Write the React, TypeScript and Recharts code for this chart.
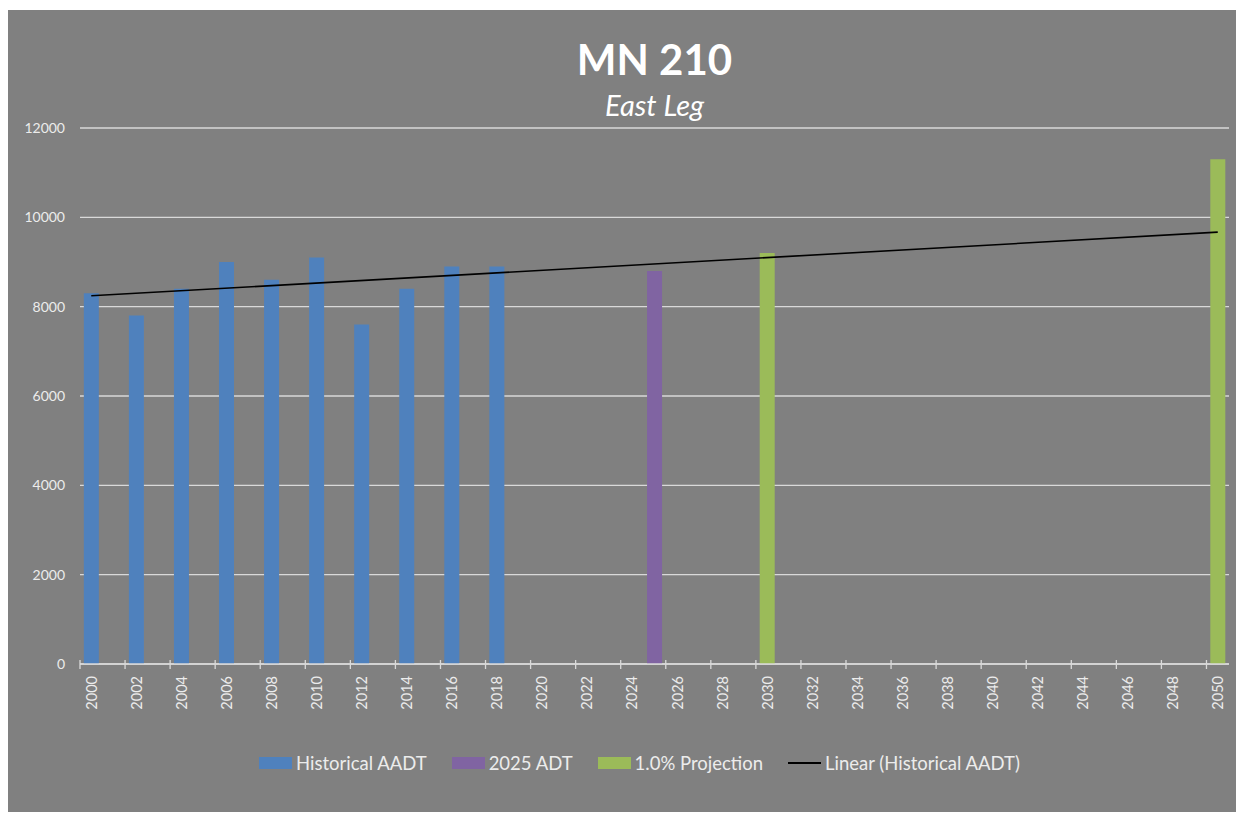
import React from "react";
import { ComposedChart, Bar, Line, XAxis, YAxis, CartesianGrid } from "recharts";

const years: number[] = [];
for (let y = 2000; y <= 2050; y++) years.push(y);

const historicalYears = [2000, 2002, 2004, 2006, 2008, 2010, 2012, 2014, 2016, 2018];
const historicalAADT = [8300, 7800, 8400, 9000, 8600, 9100, 7600, 8400, 8900, 8900];
const adtYears = [2025];
const adt2025 = [8800];
const projectionYears = [2030, 2050];
const projection = [9200, 11300];
const trendYears = [2000, 2050];
const trendValues = [8244, 9668];
const yTicks = [0, 2000, 4000, 6000, 8000, 10000, 12000];

const data = years.map((y) => {
  const hi = historicalYears.indexOf(y);
  const ai = adtYears.indexOf(y);
  const pi = projectionYears.indexOf(y);
  const ti = trendYears.indexOf(y);
  return {
    year: String(y),
    hist: hi >= 0 ? historicalAADT[hi] : null,
    adt: ai >= 0 ? adt2025[ai] : null,
    proj: pi >= 0 ? projection[pi] : null,
    trend: ti >= 0 ? trendValues[ti] : null,
  };
});

const BLUE = "#4f81bd";
const PURPLE = "#8064a2";
const GREEN = "#9bbb59";
const BG = "#808080";
const GRID = "#d9d9d9";
const TXT = "#ececec";
const FONT = "Lato, 'Open Sans', sans-serif";

const W = 1228;
const H = 802;
const LEFT = 72;
const RIGHT = 7;
const PLOT_W = W - LEFT - RIGHT;
const BAND = PLOT_W / years.length;

const XTick = (props: any) => {
  const { x, y, payload } = props;
  const lx = x - BAND / 2;
  return (
    <g>
      <line x1={lx} x2={lx} y1={y - 4} y2={y + 5} stroke={GRID} strokeWidth={1.3} />
      <text
        x={x}
        y={y + 12}
        transform={`rotate(-90, ${x}, ${y + 12})`}
        textAnchor="end"
        dominantBaseline="central"
        fill={TXT}
        fontSize={14.5}
        fontFamily={FONT}
      >
        {payload.value}
      </text>
    </g>
  );
};

const legendItems = [
  { label: "Historical AADT", color: BLUE, type: "bar" },
  { label: "2025 ADT", color: PURPLE, type: "bar" },
  { label: "1.0% Projection", color: GREEN, type: "bar" },
  { label: "Linear (Historical AADT)", color: "#000", type: "line" },
];

export default function App() {
  return (
    <div
      style={{
        position: "relative",
        width: W,
        height: H,
        marginTop: 2,
        background: BG,
        fontFamily: FONT,
      }}
    >
      <div
        style={{
          position: "absolute",
          left: LEFT,
          width: PLOT_W,
          top: 25,
          textAlign: "center",
          color: "#fff",
          fontWeight: 700,
          fontSize: 42,
          lineHeight: "48px",
        }}
      >
        MN 210
      </div>
      <div
        style={{
          position: "absolute",
          left: LEFT,
          width: PLOT_W,
          top: 78,
          textAlign: "center",
          color: "#fff",
          fontStyle: "italic",
          fontSize: 29,
          lineHeight: "34px",
        }}
      >
        East Leg
      </div>
      <ComposedChart
        width={W}
        height={H}
        data={data}
        margin={{ top: 118, right: RIGHT, bottom: 0, left: 0 }}
        barCategoryGap="17%"
      >
        <CartesianGrid vertical={false} stroke={GRID} strokeWidth={1.3} />
        <XAxis
          dataKey="year"
          interval={1}
          height={148}
          tickSize={0}
          tickMargin={0}
          tickLine={false}
          axisLine={{ stroke: GRID, strokeWidth: 1.3 }}
          tick={<XTick />}
        />
        <YAxis
          width={LEFT}
          domain={[0, 12000]}
          ticks={yTicks}
          axisLine={false}
          tickLine={false}
          tickMargin={9}
          tick={{ fill: TXT, fontSize: 14, fontFamily: FONT }}
        />
        <Bar dataKey="hist" stackId="a" fill={BLUE} isAnimationActive={false} />
        <Bar dataKey="adt" stackId="a" fill={PURPLE} isAnimationActive={false} />
        <Bar dataKey="proj" stackId="a" fill={GREEN} isAnimationActive={false} />
        <Line
          dataKey="trend"
          stroke="#000"
          strokeWidth={1.6}
          dot={false}
          connectNulls
          isAnimationActive={false}
        />
      </ComposedChart>
      <div
        style={{
          position: "absolute",
          left: 251,
          top: 741,
          height: 24,
          display: "flex",
          alignItems: "center",
          color: TXT,
          fontSize: 18.5,
        }}
      >
        {legendItems.map((it, i) => (
          <div key={i} style={{ display: "flex", alignItems: "center", marginRight: 25 }}>
            {it.type === "bar" ? (
              <div style={{ width: 33, height: 12, background: it.color, marginRight: 4 }} />
            ) : (
              <div style={{ width: 33, height: 2, background: it.color, marginRight: 4 }} />
            )}
            <span>{it.label}</span>
          </div>
        ))}
      </div>
    </div>
  );
}
